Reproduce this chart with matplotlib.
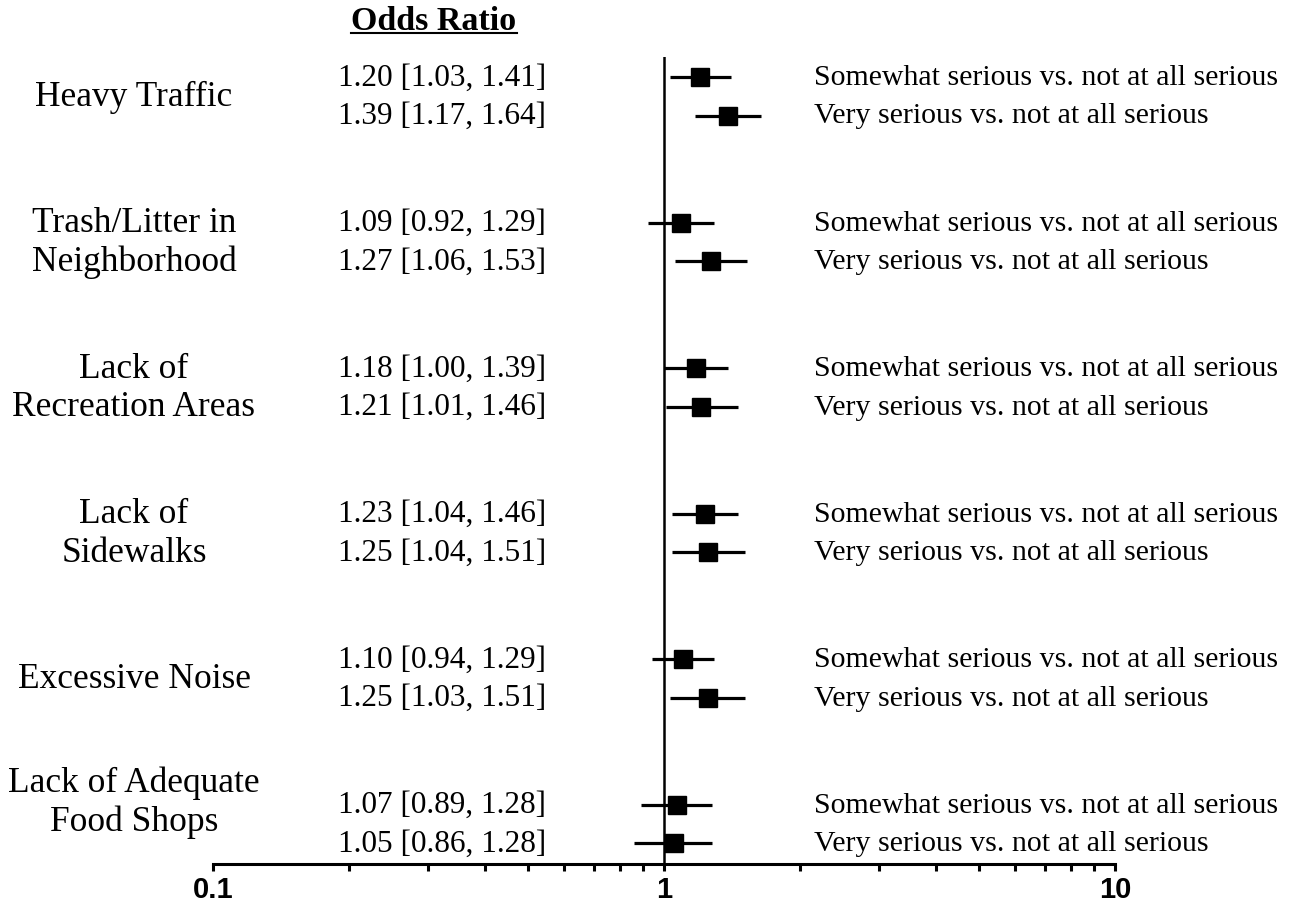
import matplotlib.pyplot as plt
import numpy as np

categories = ["Heavy Traffic", "Trash/Litter in\nNeighborhood", "Lack of\nRecreation Areas",
              "Lack of\nSidewalks", "Excessive Noise", "Lack of Adequate\nFood Shops"]
comparisons = ["Somewhat serious vs. not at all serious", "Very serious vs. not at all serious"]

odds = [[1.20, 1.39], [1.09, 1.27], [1.18, 1.21], [1.23, 1.25], [1.10, 1.25], [1.07, 1.05]]
lower = [[1.03, 1.17], [0.92, 1.06], [1.00, 1.01], [1.04, 1.04], [0.94, 1.03], [0.89, 0.86]]
upper = [[1.41, 1.64], [1.29, 1.53], [1.39, 1.46], [1.46, 1.51], [1.29, 1.51], [1.28, 1.28]]

xticks = [0.1, 1, 10]
xticklabels = ["0.1", "1", "10"]


def main():
    W, H = 1298, 904
    fig = plt.figure(figsize=(W / 100, H / 100), dpi=100)
    ax = fig.add_axes([213 / W, 1 - 865 / H, (1115 - 213) / W, (865 - 58) / H])
    axw = 1115 - 213

    def xfrac(px):
        return (px - 213) / axw

    serif = "Liberation Serif"
    tr = ax.get_yaxis_transform()
    gap = 3.78
    for g in range(len(categories)):
        for s in range(2):
            y = g * gap + s
            o, lo, hi = odds[g][s], lower[g][s], upper[g][s]
            ax.plot([lo, hi], [y, y], color="black", lw=2.3, solid_capstyle="butt", zorder=3)
            ax.plot([o], [y], marker="s", ms=13, color="black", zorder=4)
            # odds ratio text on the left, comparison text on the right
            ax.text(xfrac(338), y, f"{o:.2f} [{lo:.2f}, {hi:.2f}]", transform=tr,
                    ha="left", va="center", fontsize=22.5, family=serif, clip_on=False)
            ax.text(xfrac(814), y, comparisons[s], transform=tr,
                    ha="left", va="center", fontsize=21.5, family=serif, clip_on=False)
        lines = categories[g].split("\n")
        if len(lines) == 1:
            ypos = [g * gap + 0.5]
        else:
            ypos = [g * gap, g * gap + 1]
        if g == len(categories) - 1:
            ypos = [v - 0.57 for v in ypos]
        for line, yl in zip(lines, ypos):
            ax.text(xfrac(134), yl, line, transform=tr, ha="center", va="center",
                    fontsize=25.5, family=serif, clip_on=False)

    ax.axvline(1, color="black", lw=1.8, zorder=2)
    ax.set_xscale("log")
    ax.set_xlim(0.1, 10)
    ax.set_ylim((865 - 78) / 38.5, (58 - 78) / 38.5)

    for sp in ["left", "right", "top"]:
        ax.spines[sp].set_visible(False)
    ax.spines["bottom"].set_linewidth(2.2)
    ax.set_yticks([])
    ax.set_xticks(xticks)
    ax.set_xticklabels(xticklabels, fontsize=21, fontweight="bold", family="Liberation Sans")
    ax.tick_params(axis="x", which="major", length=5, width=2.2, direction="out", pad=3)
    ax.tick_params(axis="x", which="minor", length=5, width=2.2, direction="out")
    ax.xaxis.set_minor_formatter(plt.NullFormatter())

    t = fig.text(434 / W, 1 - 22 / H, "Odds Ratio", ha="center", va="center",
                 fontsize=24.5, fontweight="bold", family=serif)
    fig.canvas.draw()
    bb = t.get_window_extent()
    x0, x1 = bb.x0 / W, bb.x1 / W
    yl = 1 - 34 / H
    fig.add_artist(plt.Line2D([x0, x1], [yl, yl], color="black", lw=1.5))

    fig.savefig("out.png", dpi=100)


if __name__ == "__main__":
    main()
